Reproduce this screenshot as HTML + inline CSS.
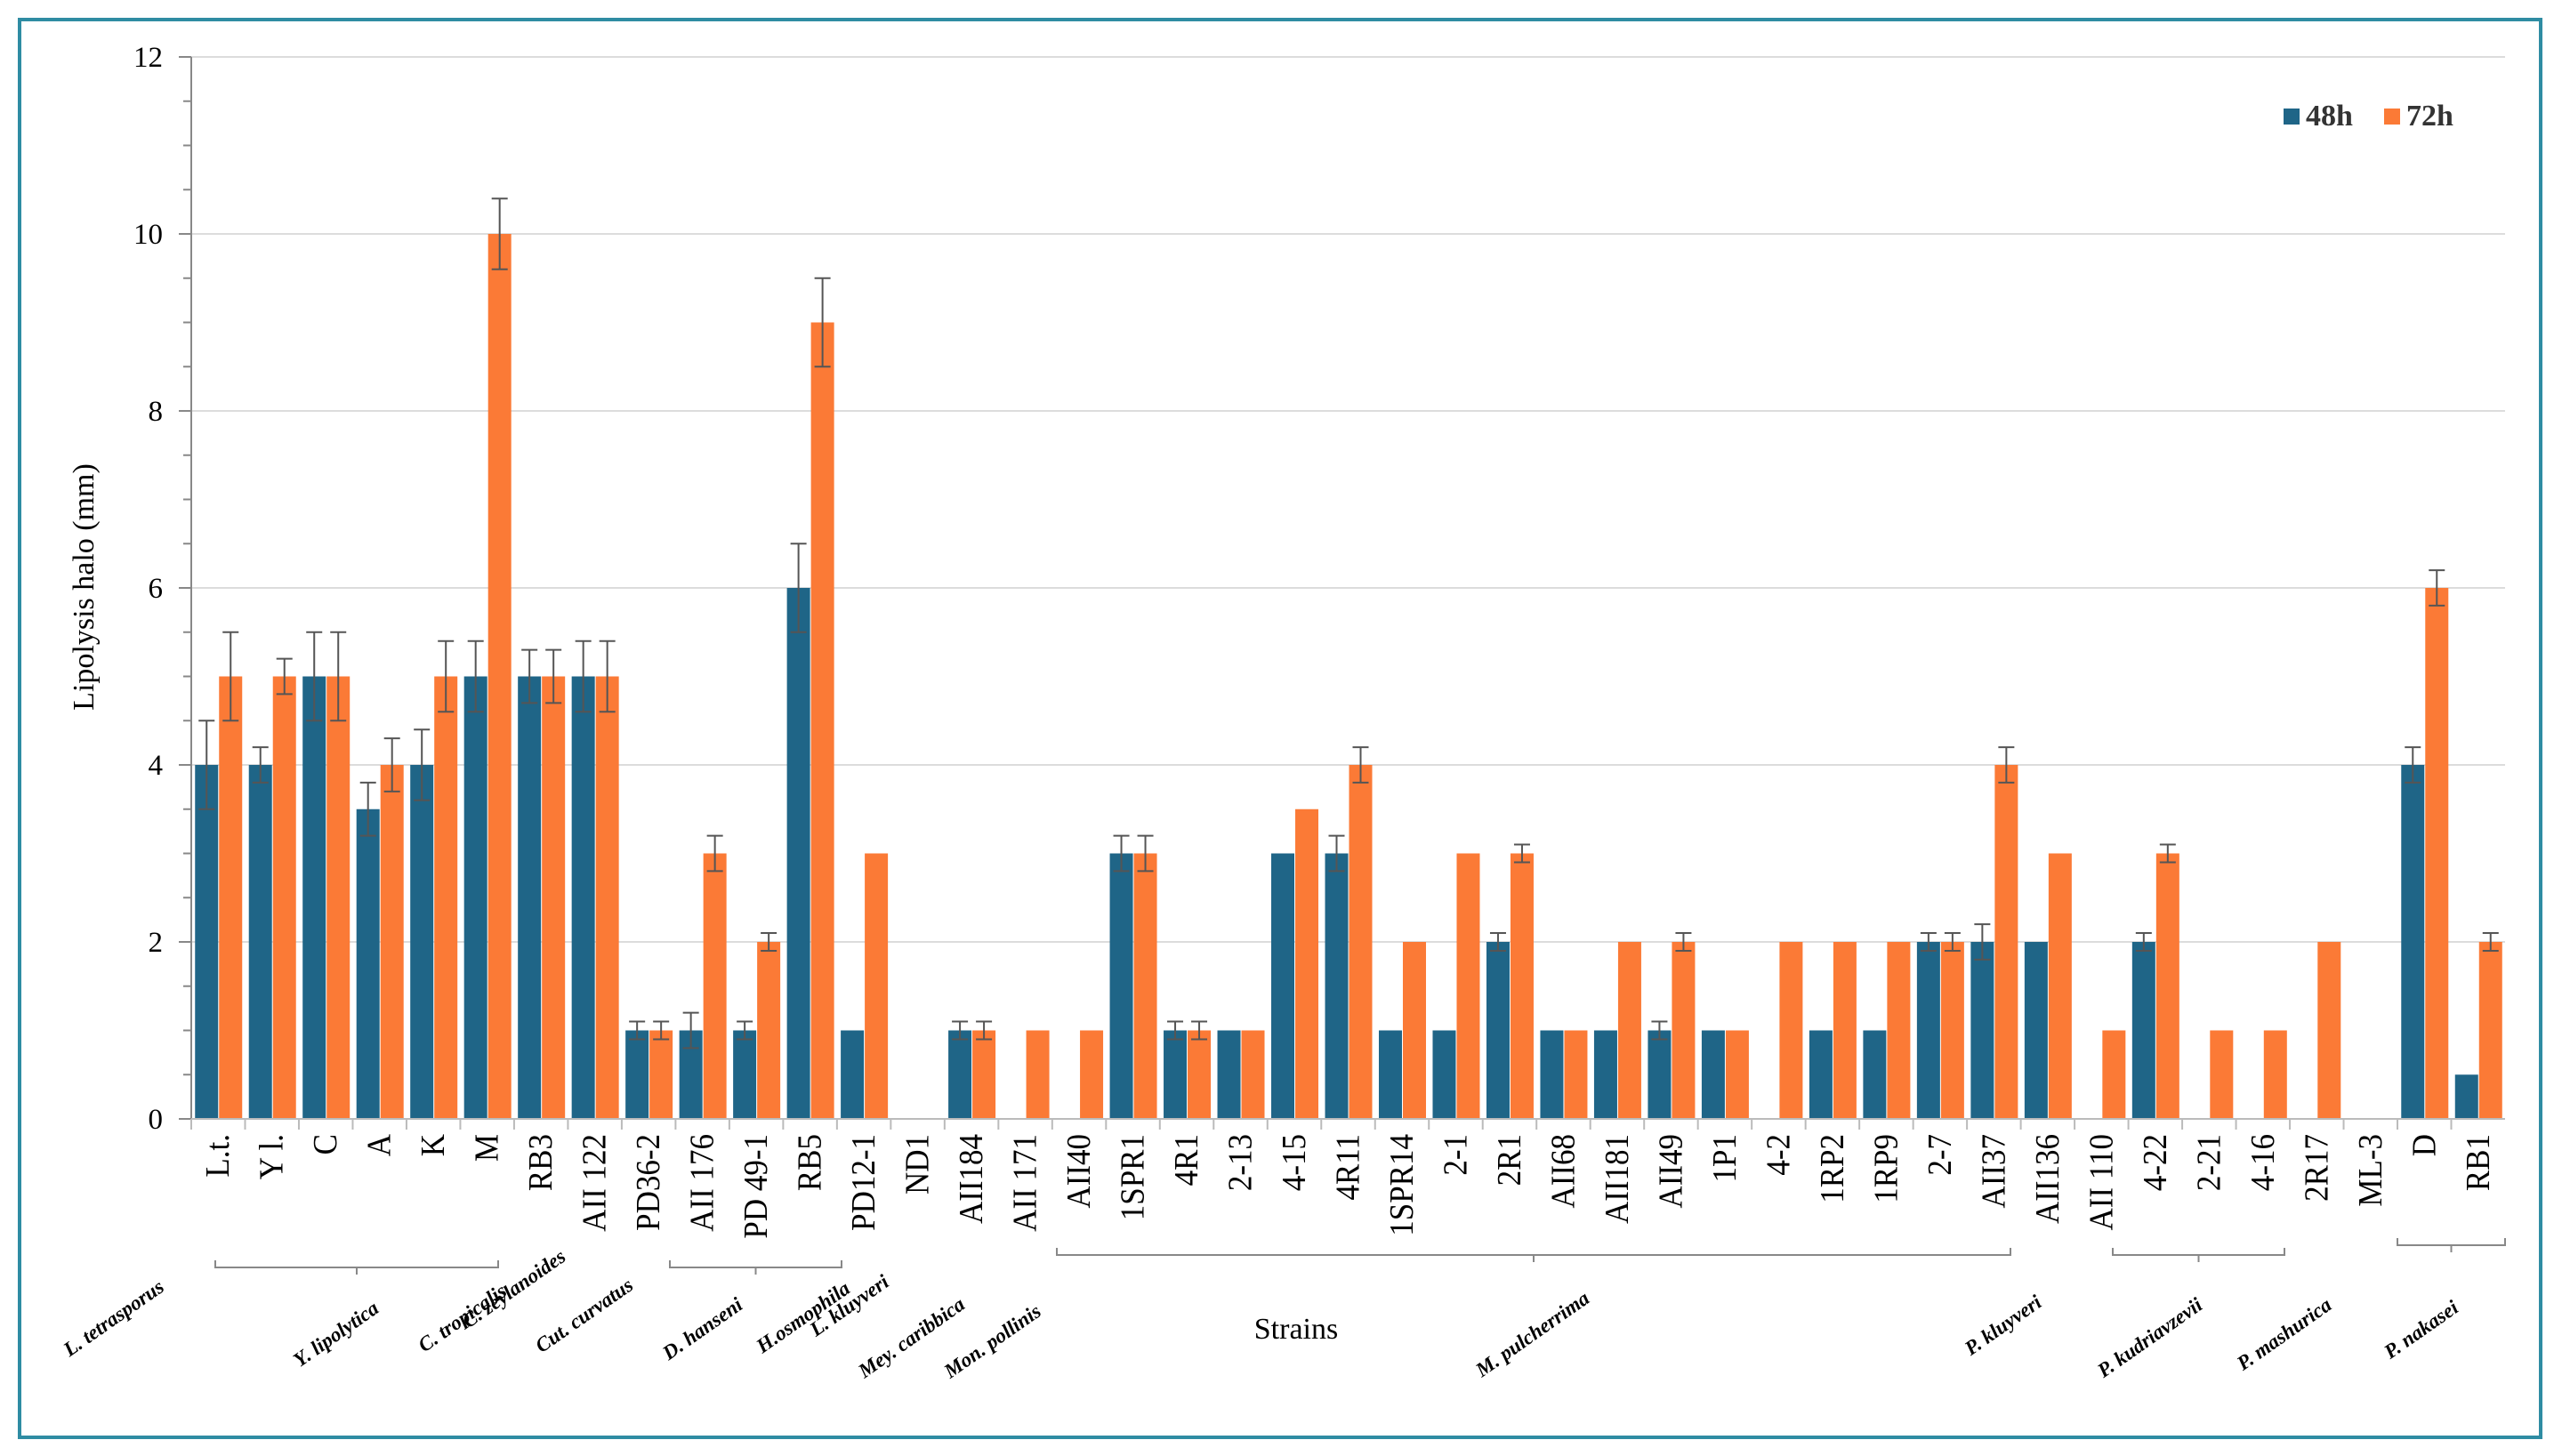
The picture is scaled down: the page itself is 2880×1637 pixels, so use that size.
<!DOCTYPE html>
<html><head><meta charset="utf-8"><style>
html,body{margin:0;padding:0;background:#fff;}
svg{display:block;}
text{font-family:"Liberation Serif",serif;}
</style></head><body>
<svg id="chart" xmlns="http://www.w3.org/2000/svg" width="2880" height="1637" viewBox="0 0 2880 1637">
<rect x="22" y="22" width="2834" height="1594" fill="#fff" stroke="#2f8ca3" stroke-width="4"/>
<g id="grid"></g><g id="bars"></g><g id="axes"></g><g id="labels"></g>
<text transform="translate(105,660) rotate(-90)" text-anchor="middle" font-size="34">Lipolysis  halo (mm)</text>
<text x="1457" y="1505" text-anchor="middle" font-size="34">Strains</text>
<g>
<rect x="2567" y="122" width="18" height="18" fill="#1f6587"/>
<text x="2592" y="141" font-size="34" font-weight="bold" fill="#333">48h</text>
<rect x="2680" y="122" width="18" height="18" fill="#fb7a36"/>
<text x="2705" y="141" font-size="34" font-weight="bold" fill="#333">72h</text>
</g>
</svg>
<script>
const categories=["L.t.","Y l.","C","A","K","M","RB3","AII 122","PD36-2","AII 176","PD 49-1","RB5","PD12-1","ND1","AII184","AII 171","AII40","1SPR1","4R1","2-13","4-15","4R11","1SPR14","2-1","2R1","AII68","AII181","AII49","1P1","4-2","1RP2","1RP9","2-7","AII37","AII136","AII 110","4-22","2-21","4-16","2R17","ML-3","D","RB1"];
const values48=[4,4,5,3.5,4,5,5,5,1,1,1,6,1,0,1,0,0,3,1,1,3,3,1,1,2,1,1,1,1,0,1,1,2,2,2,0,2,0,0,0,0,4,0.5];
const values72=[5,5,5,4,5,10,5,5,1,3,2,9,3,0,1,1,1,3,1,1,3.5,4,2,3,3,1,2,2,1,2,2,2,2,4,3,1,3,1,1,2,0,6,2];
const err48=[0.5,0.2,0.5,0.3,0.4,0.4,0.3,0.4,0.1,0.2,0.1,0.5,0,0,0.1,0,0,0.2,0.1,0,0,0.2,0,0,0.1,0,0,0.1,0,0,0,0,0.1,0.2,0,0,0.1,0,0,0,0,0.2,0];
const err72=[0.5,0.2,0.5,0.3,0.4,0.4,0.3,0.4,0.1,0.2,0.1,0.5,0,0,0.1,0,0,0.2,0.1,0,0,0.2,0,0,0.1,0,0,0.1,0,0,0,0,0.1,0.2,0,0,0.1,0,0,0,0,0.2,0.1];
const yTicks=[0,2,4,6,8,10,12];
const groupLabels=[["L. tetrasporus",132,1488],["Y. lipolytica",382,1506],["C. tropicalis",524,1488],["C. zeylanoides",582,1455],["Cut. curvatus",661,1485],["D. hanseni",794,1500],["H.osmophila",907,1487],["L. kluyveri",959,1474],["Mey. caribbica",1029,1510],["Mon. pollinis",1120,1514],["M. pulcherrima",1727,1506],["P. kluyveri",2256,1496],["P. kudriavzevii",2421,1510],["P. mashurica",2572,1506],["P. nakasei",2726,1501]];
const brackets=[[242,560,1425],[753,946,1425],[1188,2260,1411],[2375,2568,1411],[2695,2816,1400]];
const NS="http://www.w3.org/2000/svg";
const L=215,R=2816,T=64,B=1258,yMax=12;
const cw=(R-L)/categories.length;
const x=i=>L+(i+0.5)*cw;
const y=v=>B-v*(B-T)/yMax;
function mk(parent,tag,attrs){const e=document.createElementNS(NS,tag);for(const k in attrs)e.setAttribute(k,attrs[k]);document.getElementById(parent).appendChild(e);return e;}
yTicks.forEach(t=>{
 if(t>0){const g=mk('grid','line',{x1:L,x2:R,y1:y(t),y2:y(t),stroke:'#dcdcdc','stroke-width':2});
 
 }
 const lb=mk('axes','text',{x:L-32,y:y(t)+11,'text-anchor':'end','font-size':33});
 lb.textContent=t;
 
 
});
for(let v=0;v<=yMax;v+=0.5){const tk=mk('axes','line',{x1:L-(v%2===0?14:9),x2:L,y1:y(v),y2:y(v),stroke:'#888','stroke-width':2});
 
 }
const ya=mk('axes','line',{x1:L,x2:L,y1:T,y2:B,stroke:'#888','stroke-width':2});


const xa=mk('axes','line',{x1:L,x2:R,y1:B,y2:B,stroke:'#bbb','stroke-width':2});


const bw=26;
categories.forEach((c,i)=>{
 const cx=x(i);
 const sep=mk('axes','line',{x1:L+i*cw,x2:L+i*cw,y1:B,y2:B+12,stroke:'#bbb','stroke-width':2});
 
 
 [[values48[i],err48[i],cx-bw,'#1f6587','bar-48h'],[values72[i],err72[i],cx+1,'#fb7a36','bar-72h']].forEach(([v,e,bx,col,nm])=>{
  if(v>0){const r=mk('bars','rect',{x:bx,y:y(v),width:bw,height:B-y(v),fill:col});
   
   }
  if(e>0){const ex=bx+bw/2;const eb=mk('bars','path',{d:`M${ex},${y(v+e)}V${y(v-e)}M${ex-9},${y(v+e)}H${ex+9}M${ex-9},${y(v-e)}H${ex+9}`,stroke:'#555','stroke-width':2,fill:'none'});
   
   }
 });
 const t=mk('labels','text',{transform:`translate(${cx+12},1275) rotate(-90) scale(1,1.1)`,'text-anchor':'end','font-size':35});
 t.textContent=c;
 
 
});
brackets.forEach(([a,b,yy])=>{
 const m=(a+b)/2;
 const p=mk('labels','path',{d:`M${a},${yy-8}V${yy}H${b}V${yy-8}M${m},${yy}V${yy+8}`,stroke:'#888','stroke-width':2,fill:'none'});
 
 
});
groupLabels.forEach(([s,gx,gy])=>{
 const t=mk('labels','text',{transform:`translate(${gx},${gy}) rotate(-35)`,'text-anchor':'middle','font-size':23,'font-style':'italic','font-weight':'bold'});
 t.textContent=s;
 
 
});
</script>
</body></html>
